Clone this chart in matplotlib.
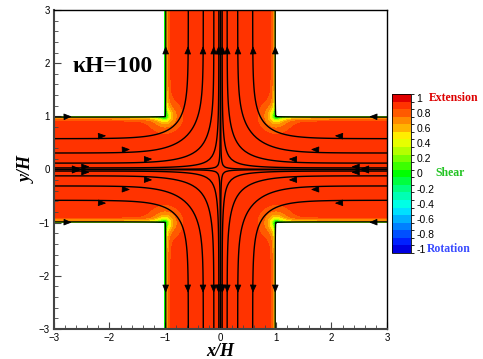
import numpy as np
import matplotlib
matplotlib.use("Agg")
import matplotlib.pyplot as plt
from matplotlib.colors import ListedColormap, BoundaryNorm
from matplotlib.ticker import MultipleLocator, FuncFormatter

# cross-slot geometry (in units of H)
half_width = 1.0
extent = 3.0
label_kappa = "\u03baH=100"

# streamlines are the stream-function levels seen at the inlets
seed_y = [0.003, 0.03, 0.12, 0.31, 0.58, 0.985]
# where the arrow heads sit: |x| in the inlet arms, |y| in the outlet arms
arrow_in = {0.003: 2.55, 0.03: 2.38, 0.12: 1.25, 0.31: 1.65, 0.58: 2.08, 0.985: 2.7}
arrow_out = 2.3

# flow-type parameter: bulk extension, shear at the walls, softer at corners
xi_bulk = 0.92
xi_wall = 0.0
edl_thickness = 0.04
corner_drop = 0.8
corner_size = 0.14

# legend levels and their colours (from -1 to 1)
level_values = np.round(np.arange(-1.0, 1.01, 0.1), 1)
level_colors = ["#0000e0", "#0020ff", "#0050ff", "#0080ff", "#00b0ff",
                "#00e0ff", "#00ffe6", "#00ffb4", "#00ff80", "#00ff40",
                "#00ff00", "#3cff00", "#78ff00", "#b4ff00", "#e6ff00",
                "#ffee00", "#ffb400", "#ff8a00", "#ff5a00", "#ff3300",
                "#e00000"]
tick_values = level_values[::2]
legend_words = {1.0: ("Extension", "#dd0000", 18),
                0.0: ("Shear", "#22c322", 24),
                -1.0: ("Rotation", "#3a4cff", 16)}

# ---- stream function of the plug (potential) flow, solved by SOR ----
n = 121
g = np.linspace(-extent, extent, n)
X, Y = np.meshgrid(g, g)
eps = 1e-9
inside = (np.abs(X) <= half_width + eps) | (np.abs(Y) <= half_width + eps)
psi = np.clip(-X * Y, -1, 1)
outside_val = -np.sign(X) * np.sign(Y)
psi[~inside] = outside_val[~inside]
lr = np.abs(X) >= extent - eps
tb = np.abs(Y) >= extent - eps
psi[lr] = (-np.sign(X) * np.clip(Y, -1, 1))[lr]
psi[tb] = (-np.sign(Y) * np.clip(X, -1, 1))[tb]
walls = (np.abs(X) >= half_width - eps) & (np.abs(Y) >= half_width - eps)
psi[walls] = outside_val[walls]
free = inside & ~lr & ~tb & ~walls
parity = np.add.outer(np.arange(n), np.arange(n)) % 2
red = free & (parity == 0)
black = free & (parity == 1)
omega = 1.9
for _ in range(1500):
    for m in (red, black):
        nb = 0.25 * (np.roll(psi, 1, 0) + np.roll(psi, -1, 0)
                     + np.roll(psi, 1, 1) + np.roll(psi, -1, 1))
        psi[m] += omega * (nb[m] - psi[m])

# ---- flow-type field on a finer grid ----
gf = np.linspace(-extent, extent, 241)
XF, YF = np.meshgrid(gf, gf)
dx = np.maximum(half_width - np.abs(XF), 0)
dy = np.maximum(half_width - np.abs(YF), 0)
d_wall = np.hypot(dx, dy)
r_corner = np.hypot(half_width - np.abs(XF), half_width - np.abs(YF))
xi = (xi_bulk - (xi_bulk - xi_wall) * np.exp(-d_wall / edl_thickness)
      - corner_drop * np.exp(-r_corner / corner_size))
xi = np.clip(xi, 0.0, 1.0)
in_f = (np.abs(XF) <= half_width + eps) | (np.abs(YF) <= half_width + eps)
xi = np.ma.masked_where(~in_f, xi)

# ---- figure ----
fig = plt.figure(figsize=(4.83, 3.59), dpi=100)
ax = fig.add_axes([0.1118, 0.0836, 0.6894, 0.8886])
cax = fig.add_axes([0.8116, 0.2953, 0.0393, 0.4429])

bounds = np.round(np.arange(-1.05, 1.06, 0.1), 2)
cmap = ListedColormap(level_colors)
norm = BoundaryNorm(bounds, cmap.N)
cf = ax.contourf(XF, YF, xi, levels=bounds, cmap=cmap, norm=norm)

levels = sorted([-v for v in seed_y] + seed_y)
cs = ax.contour(X, Y, psi, levels=levels, colors="k", linewidths=1.0,
                linestyles="solid")


def draw_head(p, direction):
    d = direction / np.hypot(*direction)
    ax.annotate("", xy=p + 0.02 * d, xytext=p - 0.02 * d,
                arrowprops=dict(arrowstyle="-|>,head_length=0.6,head_width=0.25",
                                fc="k", ec="k", lw=0.6, mutation_scale=8,
                                shrinkA=0, shrinkB=0))


def heads_on_line(verts, x_in, y_out):
    for i in range(len(verts) - 1):
        a, b = verts[i], verts[i + 1]
        # inlet arms: flow goes towards x = 0
        if abs(a[1]) < half_width and (abs(a[0]) - x_in) * (abs(b[0]) - x_in) <= 0 \
                and abs(a[0]) != abs(b[0]):
            t = (x_in - abs(a[0])) / (abs(b[0]) - abs(a[0]))
            p = a + t * (b - a)
            seg = b - a
            if np.sign(seg[0]) != -np.sign(p[0]):
                seg = -seg
            draw_head(p, seg)
        # outlet arms: flow goes away from y = 0
        if abs(a[0]) < half_width + 0.02 and (abs(a[1]) - y_out) * (abs(b[1]) - y_out) <= 0 \
                and abs(a[1]) != abs(b[1]):
            t = (y_out - abs(a[1])) / (abs(b[1]) - abs(a[1]))
            p = a + t * (b - a)
            seg = b - a
            if np.sign(seg[1]) != np.sign(p[1]):
                seg = -seg
            draw_head(p, seg)


for lev, path in zip(cs.levels, cs.get_paths()):
    x_in = arrow_in[round(abs(lev), 3)]
    for verts in path.to_polygons(closed_only=False):
        if len(verts) > 2:
            heads_on_line(verts, x_in, arrow_out)

ax.set_xlim(-extent, extent)
ax.set_ylim(-extent, extent)
for side in ("left", "bottom"):
    ax.spines[side].set_linewidth(1.5)
    ax.spines[side].set_color("#444444")
for side in ("top", "right"):
    ax.spines[side].set_linewidth(1.0)
ax.xaxis.set_major_locator(MultipleLocator(1))
ax.yaxis.set_major_locator(MultipleLocator(1))
ax.xaxis.set_minor_locator(MultipleLocator(0.2))
ax.yaxis.set_minor_locator(MultipleLocator(0.2))
ax.tick_params(which="both", direction="in", top=False, right=False,
               labelsize=7, pad=3, color="#444444")
ax.tick_params(which="major", length=5, width=0.8)
ax.tick_params(which="minor", length=3, width=0.6)
for lab in ax.get_xticklabels() + ax.get_yticklabels():
    lab.set_fontfamily("Liberation Sans")

ax.set_xlabel("x/H", family="Liberation Serif", style="italic",
              weight="bold", fontsize=13, labelpad=0)
ax.set_ylabel("y/H", family="Liberation Serif", style="italic",
              weight="bold", fontsize=13, labelpad=2)
ax.text(-2.66, 1.93, label_kappa, family="Liberation Serif",
        weight="bold", fontsize=17, va="center", ha="left")

cb = fig.colorbar(cf, cax=cax, ticks=tick_values)
cb.outline.set_linewidth(0.6)
cax.tick_params(length=0, labelsize=7.5, pad=4)
cax.yaxis.set_major_formatter(FuncFormatter(lambda v, p: f"{round(v, 1) + 0:g}"))
for lab in cax.get_yticklabels():
    lab.set_fontfamily("Liberation Sans")
for v, (word, col, off) in legend_words.items():
    cax.text(1.0 + off / 19.0, v, word,
             transform=cax.get_yaxis_transform(), color=col,
             family="Liberation Serif", weight="bold", fontsize=8.5,
             va="center", ha="left")

fig.savefig("out.png", dpi=100)
